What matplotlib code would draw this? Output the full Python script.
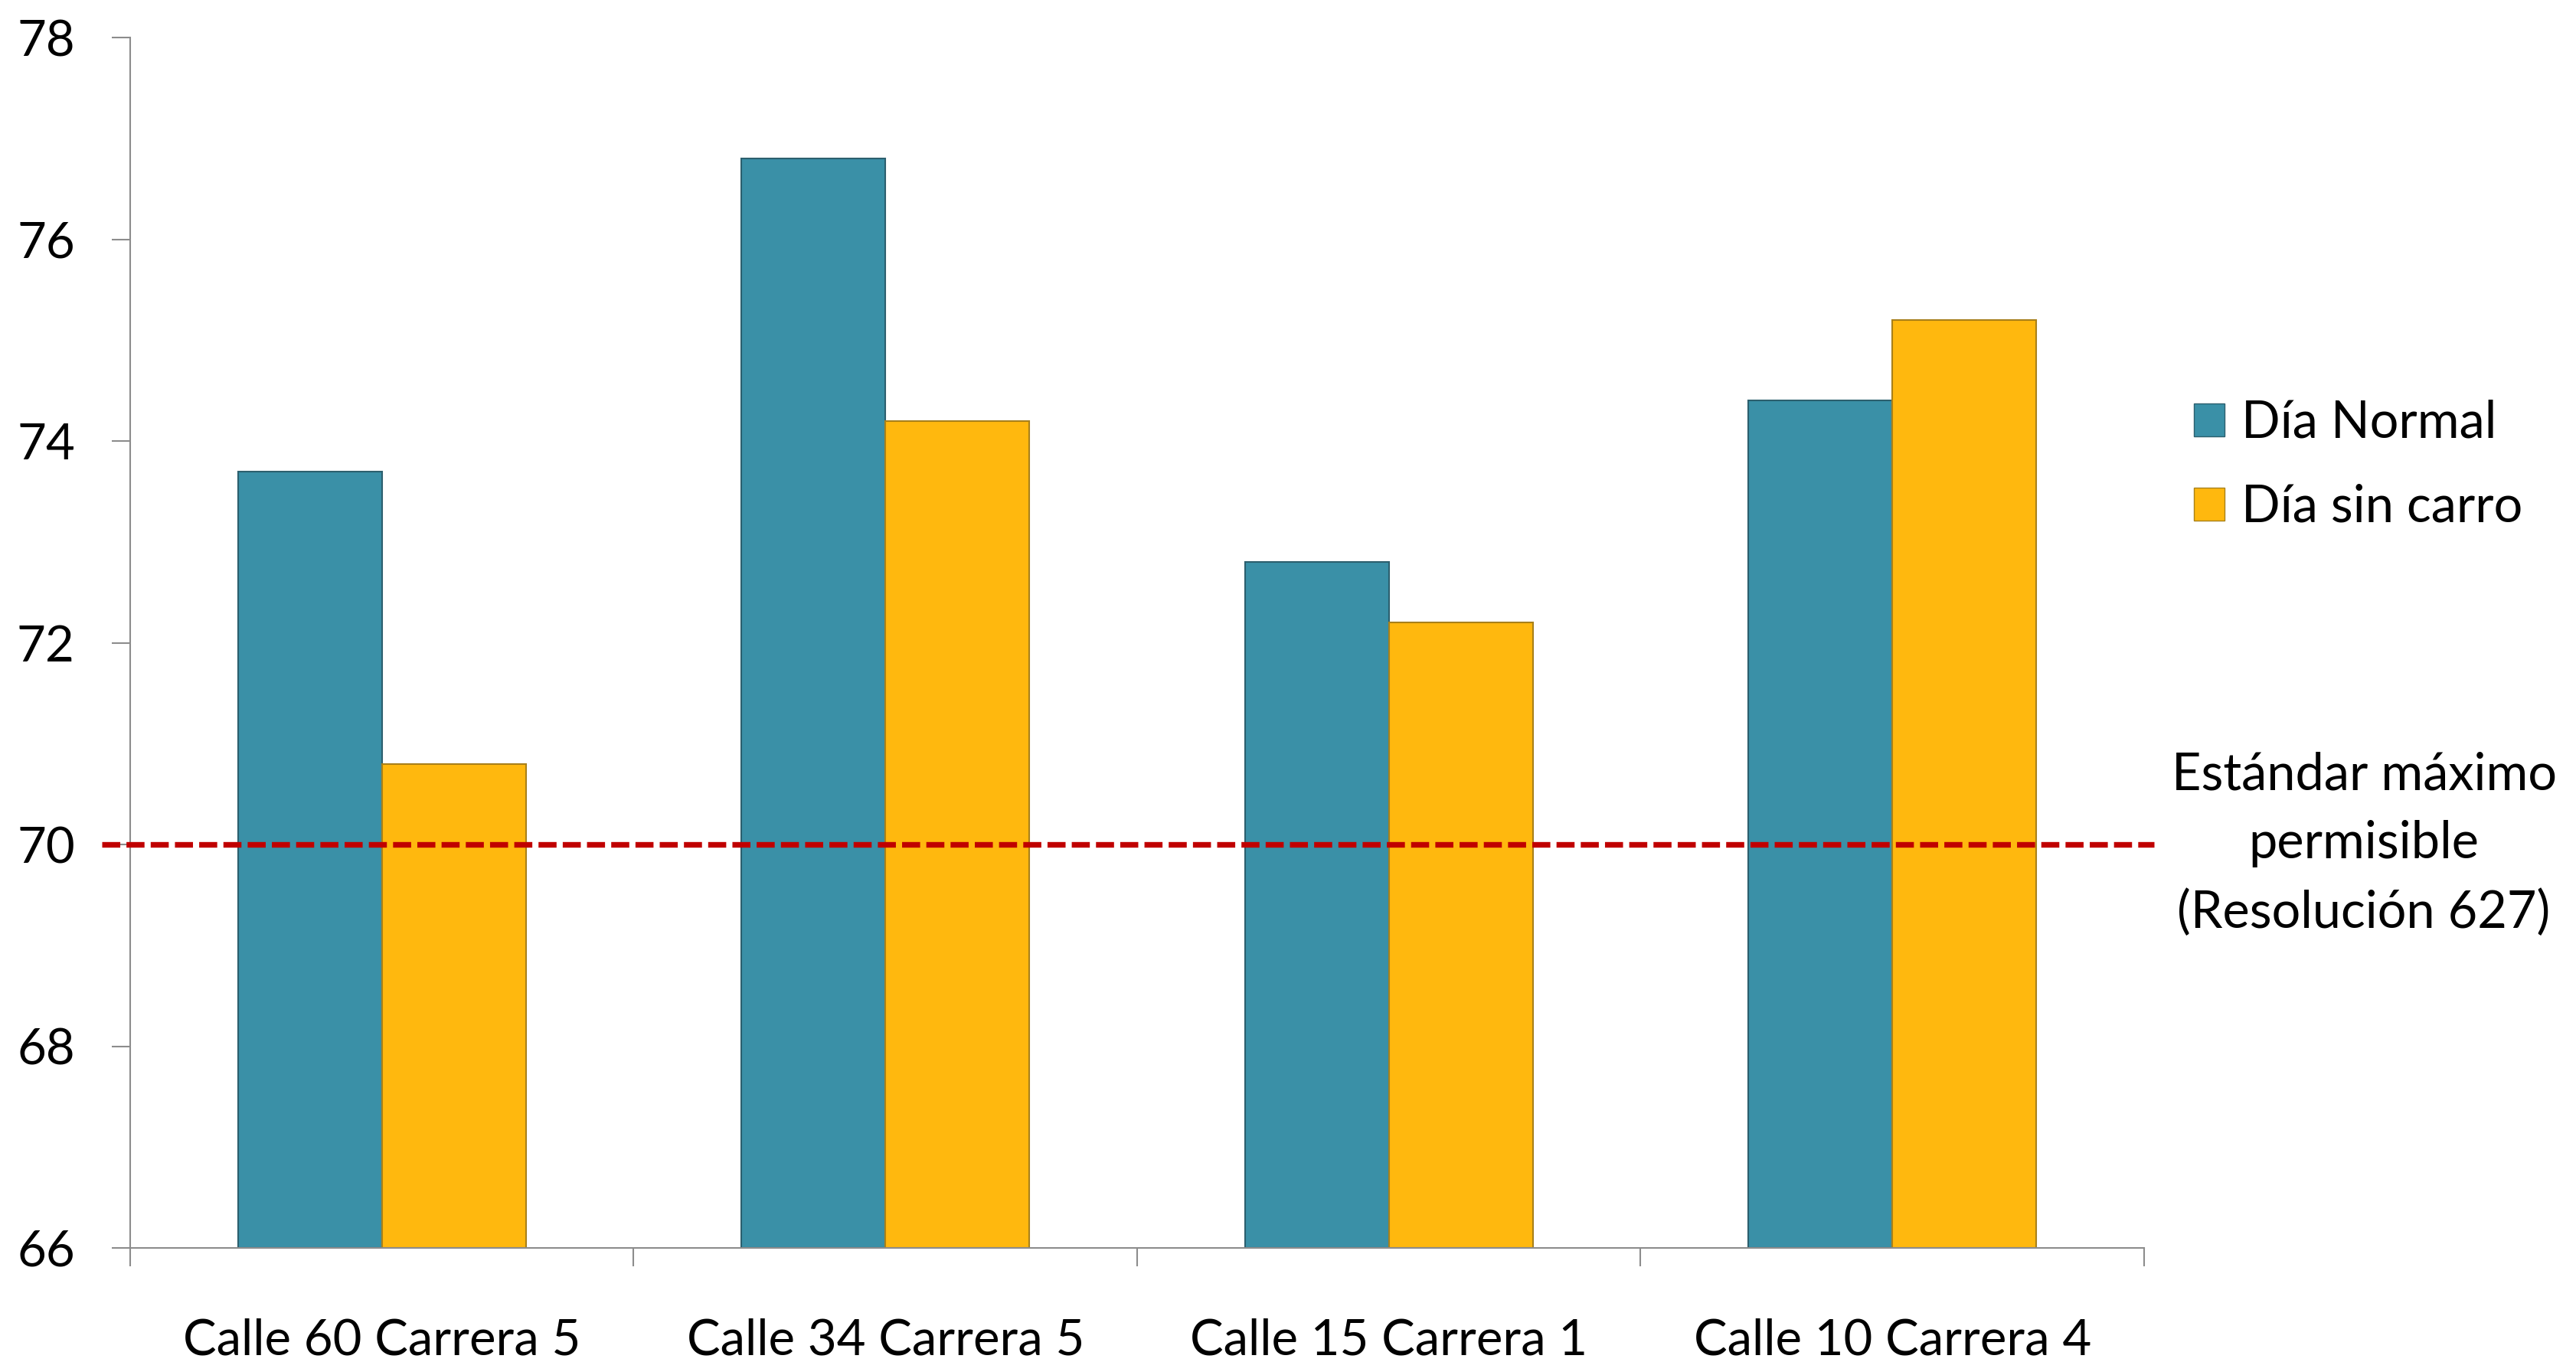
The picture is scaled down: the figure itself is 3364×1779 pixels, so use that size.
import matplotlib.pyplot as plt
import numpy as np
from matplotlib.patches import Patch
from matplotlib.transforms import blended_transform_factory

plt.rcParams['font.family'] = ['Lato', 'DejaVu Sans']

categories = ["Calle 60 Carrera 5", "Calle 34 Carrera 5", "Calle 15 Carrera 1", "Calle 10 Carrera 4"]
dia_normal = [73.7, 76.8, 72.8, 74.4]
dia_sin_carro = [70.8, 74.2, 72.2, 75.2]
series_names = ["Día Normal", "Día sin carro"]
limit_value = 70
limit_label = "Estándar máximo\npermisible\n(Resolución 627)"
y_ticks = [66, 68, 70, 72, 74, 76, 78]

TEAL, TEAL_EDGE = "#3A90A7", "#2C5F6E"
GOLD, GOLD_EDGE = "#FFB80E", "#A8801A"
RED = "#C00000"
AXIS = "#8C8C8C"
FS = 47

fig = plt.figure(figsize=(33.64, 17.79), dpi=100)
ax = fig.add_axes([170 / 3364, 149 / 1779, 2630 / 3364, 1581 / 1779])

x = np.arange(len(categories))
w = 0.2857
ax.bar(x - w / 2, np.array(dia_normal) - y_ticks[0], w, bottom=y_ticks[0],
       color=TEAL, edgecolor=TEAL_EDGE, linewidth=1.5, zorder=2)
ax.bar(x + w / 2, np.array(dia_sin_carro) - y_ticks[0], w, bottom=y_ticks[0],
       color=GOLD, edgecolor=GOLD_EDGE, linewidth=1.5, zorder=2)

# threshold line slightly overshoots the plot area, like the original
ax.plot([-0.014, 1.005], [limit_value, limit_value], transform=ax.get_yaxis_transform(),
        color=RED, linewidth=5.3, dashes=(3.2, 1.1), clip_on=False, zorder=3)

ax.set_xlim(-0.5, len(categories) - 0.5)
ax.set_ylim(y_ticks[0], y_ticks[-1])
ax.set_yticks(y_ticks)
ax.set_yticklabels([str(t) for t in y_ticks], fontsize=FS)

# category boundaries get ticks, labels sit in the middle
ax.set_xticks(np.arange(-0.5, len(categories), 1.0))
ax.set_xticklabels([])
ax.set_xticks(x, minor=True)
ax.set_xticklabels(categories, minor=True, fontsize=FS)
ax.tick_params(axis="x", which="minor", length=0, pad=66)
ax.tick_params(axis="x", which="major", length=17, width=1.5, color=AXIS, direction="out")
ax.tick_params(axis="y", length=17, width=1.5, color=AXIS, direction="out", pad=35)

for s in ["top", "right"]:
    ax.spines[s].set_visible(False)
for s in ["left", "bottom"]:
    ax.spines[s].set_color(AXIS)
    ax.spines[s].set_linewidth(1.5)

handles = [Patch(facecolor=TEAL, edgecolor=TEAL_EDGE), Patch(facecolor=GOLD, edgecolor=GOLD_EDGE)]
fig.legend(handles, series_names, loc="center left", bbox_to_anchor=(2832 / 3364, 1 - 608 / 1779),
           frameon=False, fontsize=FS + 1, borderpad=0, handlelength=0.6, handleheight=0.6,
           handletextpad=0.32, labelspacing=0.72)

ax.text(3087 / 3364, limit_value, limit_label,
        transform=blended_transform_factory(fig.transFigure, ax.transData),
        ha="center", va="center", fontsize=FS + 1, linespacing=1.55)

fig.savefig("out.png", dpi=100)
